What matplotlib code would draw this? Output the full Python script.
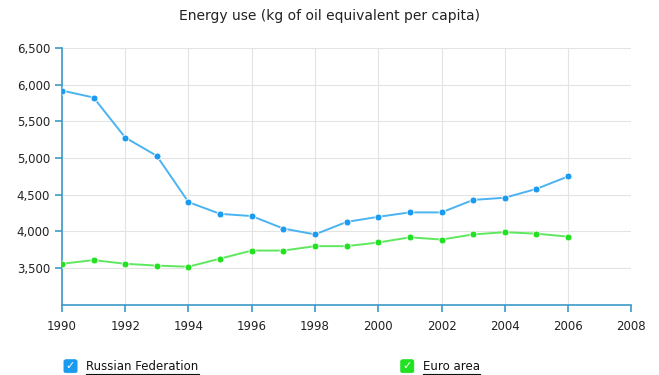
import numpy as np
import matplotlib
matplotlib.use("Agg")
import matplotlib.pyplot as plt
from matplotlib.patches import FancyBboxPatch
from matplotlib.lines import Line2D

years = list(range(1990, 2007))
russia = [5920, 5825, 5280, 5030, 4400, 4240, 4210, 4040, 3960, 4130,
          4200, 4260, 4260, 4430, 4460, 4580, 4750]
euro = [3560, 3610, 3560, 3535, 3520, 3630, 3740, 3740, 3800, 3800,
        3850, 3920, 3890, 3960, 3990, 3970, 3930]
series_names = ["Russian Federation", "Euro area"]
series_colors = ["#1b9bef", "#22e022"]
line_colors = ["#4ab3f0", "#5ee85e"]
yticks = [3500, 4000, 4500, 5000, 5500, 6000, 6500]
xticks = list(range(1990, 2009, 2))

axis_col = "#3a9ac9"
plt.rcParams['font.family'] = ['DejaVu Sans']

fig = plt.figure(figsize=(6.59, 3.75), dpi=100)
ax = fig.add_axes([0.094, 0.187, 0.864, 0.685])

for vals, c, lc in zip([russia, euro], series_colors, line_colors):
    ax.plot(years, vals, color=lc, lw=1.4, zorder=3)
    ax.plot(years, vals, 'o', color=c, ms=5, mec='white', mew=0.6, zorder=4)

ax.set_xlim(1990, 2008)
ax.set_ylim(3000, 6500)
ax.set_xticks(xticks)
ax.set_yticks(yticks)
ax.set_yticklabels([f"{v:,}" for v in yticks])
ax.grid(True, color="#e3e3e3", lw=0.8)
ax.set_axisbelow(True)

for s in ['top', 'right']:
    ax.spines[s].set_visible(False)
for s in ['left', 'bottom']:
    ax.spines[s].set_color(axis_col)
    ax.spines[s].set_linewidth(1.2)
ax.tick_params(axis='both', colors=axis_col, length=5, width=1.2,
               labelcolor="#222222", labelsize=8.5)
ax.tick_params(axis='x', pad=6)

fig.text(0.5, 0.957, "Energy use (kg of oil equivalent per capita)",
         ha='center', va='center', fontsize=10, color="#222222")

# legend with checkbox markers and underlined labels
legend_x = [0.097, 0.608]
ly = 0.022
fig.canvas.draw()
renderer = fig.canvas.get_renderer()
for name, c, lx in zip(series_names, series_colors, legend_x):
    box = FancyBboxPatch((lx, ly - 0.016), 0.02, 0.035,
                         boxstyle="round,pad=0,rounding_size=0.004",
                         transform=fig.transFigure, fc=c, ec=c, lw=0.5)
    fig.patches.append(box)
    fig.text(lx + 0.010, ly + 0.002, "\u2713", color='white', fontsize=8,
             fontweight='bold', ha='center', va='center')
    t = fig.text(lx + 0.034, ly, name, fontsize=8.5, color="#111111",
                 va='center', ha='left')
    bb = t.get_window_extent(renderer).transformed(fig.transFigure.inverted())
    fig.lines.append(Line2D([bb.x0, bb.x1], [bb.y0 - 0.002, bb.y0 - 0.002],
                            transform=fig.transFigure, color="#111111", lw=0.8))

fig.savefig("out.png", dpi=100)
